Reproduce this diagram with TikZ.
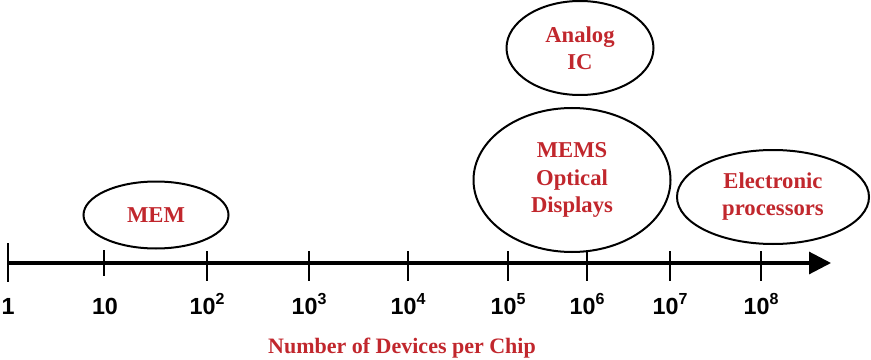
\documentclass[tikz,border=0pt]{standalone}
\usepackage{fontspec}
\setmainfont{Liberation Serif}
\newfontfamily\axisfont{Liberation Sans}
\usetikzlibrary{shapes.geometric,arrows.meta}
\definecolor{tred}{HTML}{C1272D}
\newcommand{\supnum}[1]{\raisebox{0.42em}{\fontsize{12}{12}\selectfont #1}}
\begin{document}
\begin{tikzpicture}[x=0.75pt,y=-0.75pt,
  bubble/.style={draw, line width=1.5pt, ellipse, inner sep=0pt, align=center,
    text=tred, font=\fontsize{17}{20.3}\selectfont\bfseries},
  tickmark/.style={line width=1.9pt},
  ticklabel/.style={anchor=base, font=\axisfont\fontsize{17.5}{18}\selectfont\bfseries, inner sep=0pt}]
\useasboundingbox (0,0) rectangle (871,360);
% axis
\coordinate (axs) at (7,263);
\coordinate (axe) at (831,263);
\draw[line width=2.3pt, -{Triangle[length=16.5pt,width=16.5pt]}] (axs) -- (axe);
% ticks
\draw[tickmark] (8,243) -- (8,282);
\draw[tickmark] (104,250) -- (104,276);
\foreach \x in {207,309,408,508,587,670,761}
  \draw[tickmark] (\x,251) -- (\x,281);
% tick labels
\node[ticklabel] (l0) at (8,314) {1};
\node[ticklabel] (l1) at (105,314) {10};
\node[ticklabel] (l2) at (207,314) {10\supnum{2}};
\node[ticklabel] (l3) at (309,314) {10\supnum{3}};
\node[ticklabel] (l4) at (408,314) {10\supnum{4}};
\node[ticklabel] (l5) at (508,314) {10\supnum{5}};
\node[ticklabel] (l6) at (587,314) {10\supnum{6}};
\node[ticklabel] (l7) at (670,314) {10\supnum{7}};
\node[ticklabel] (l8) at (761,314) {10\supnum{8}};
% axis title
\node[anchor=base, text=tred, font=\fontsize{16.5}{20}\selectfont\bfseries, inner sep=0pt]
  (title) at (402,353) {Number of Devices per Chip};
% bubbles
\node[bubble, minimum width=108.75pt, minimum height=50.25pt] (mem) at (156,215) {MEM};
\node[bubble, minimum width=110.25pt, minimum height=70.5pt] (analog) at (580,48) {Analog\\IC};
\node[bubble, minimum width=147.75pt, minimum height=108pt] (mems) at (572,180) {MEMS\\Optical\\Displays};
\node[bubble, minimum width=144pt, minimum height=70.5pt] (elec) at (773,197) {Electronic\\processors};
\end{tikzpicture}
\end{document}
